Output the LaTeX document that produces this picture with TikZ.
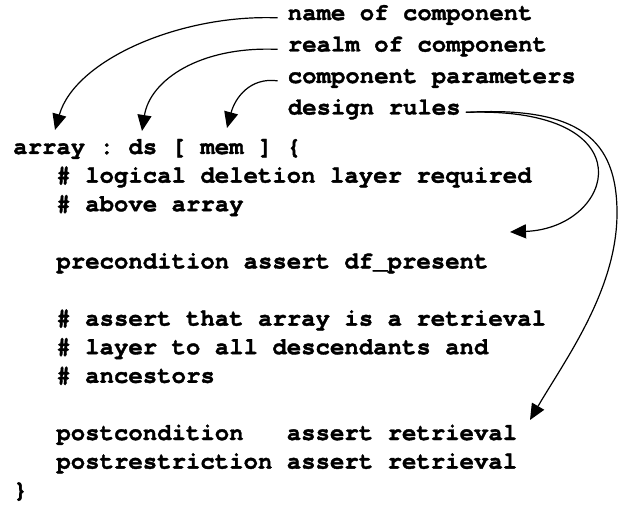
\documentclass[tikz,border=0pt]{standalone}
\usepackage{fontspec}
\setmonofont{TeX Gyre Cursor}[BoldFeatures={FakeBold=1.5}]
\usetikzlibrary{arrows.meta}
\begin{document}
\begin{tikzpicture}[x=1pt,y=-1pt,
  txt/.style={anchor=base west, inner sep=0pt, font=\fontsize{24}{28}\selectfont\ttfamily\bfseries\frenchspacing},
  lbl/.style={txt, inner xsep=10pt},
  conn/.style={line width=1.2pt, -{Triangle[length=16pt,width=14pt]}}]
\useasboundingbox (0,0) rectangle (623,513);
% labels
\node[lbl] (lname)  at (277.6,20)   {name of component};
\node[lbl] (lrealm) at (277.6,51.5) {realm of component};
\node[lbl] (lparam) at (277.6,83)   {component parameters};
\node[lbl, inner xsep=5pt] (lrules) at (282.6,114.5) {design rules};
% code
\node[txt] (c1)  at (13,154)     {array : ds [ mem ] \{};
\node[txt] (c2)  at (56.2,182.6) {\# logical deletion layer required};
\node[txt] (c3)  at (56.2,211.2) {\# above array};
\node[txt] (c4)  at (56.2,268.4) {precondition assert df\_present};
\node[txt] (c5)  at (56.2,325.6) {\# assert that array is a retrieval};
\node[txt] (c6)  at (56.2,354.2) {\# layer to all descendants and};
\node[txt] (c7)  at (56.2,382.8) {\# ancestors};
\node[txt] (c8)  at (56.2,440)   {postcondition\ \ \ assert retrieval};
\node[txt] (c9)  at (56.2,468.6) {postrestriction assert retrieval};
\node[txt] (c10) at (13,497.2)   {\}};
% arrow targets
\coordinate (tname)  at (55,130);
\coordinate (trealm) at (142,131);
\coordinate (tparam) at (227,128);
\coordinate (trule1) at (510,232);
\coordinate (rbend)  at (617,213);
\coordinate (trule2) at (530,420);
% connectors
\draw[conn] (lname.mid west) .. controls (180,14) and (75,60) .. (tname);
\draw[conn] (lrealm.mid west) .. controls (200,46) and (150,80) .. (trealm);
\draw[conn] (lparam.mid west) .. controls (250,77) and (235,98) .. (tparam);
\draw[conn] (lrules.mid east) .. controls (650,106) and (615,228) .. (trule1);
\draw[conn] (lrules.mid east) .. controls (580,106) and (617,140) .. (rbend)
  .. controls (617,290) and (565,360) .. (trule2);
\end{tikzpicture}
\end{document}
